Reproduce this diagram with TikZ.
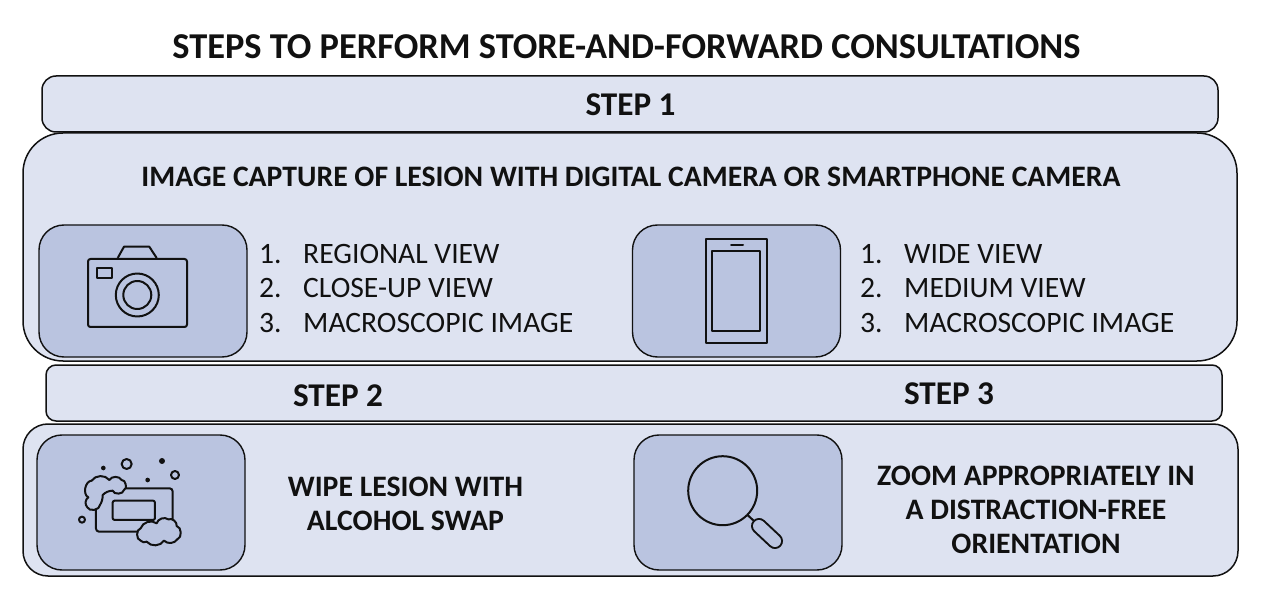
\documentclass[tikz,border=0pt]{standalone}
\usepackage{fontspec}
\setmainfont{Carlito}
\definecolor{panelc}{HTML}{DEE3F1}
\definecolor{iconc}{HTML}{BAC4E0}
\definecolor{inkc}{HTML}{111111}
\tikzset{
 bx/.style={draw=inkc,line width=1.5pt,fill=panelc,inner sep=0pt},
 ib/.style={draw=inkc,line width=1.4pt,fill=iconc,inner sep=0pt,minimum width=208pt,rounded corners=25pt},
 ic/.style={draw=inkc,line width=2pt,line join=round},
 bt/.style={font=\bfseries\fontsize{29.7}{32}\selectfont,text=inkc,inner sep=0pt},
 st/.style={font=\bfseries\fontsize{33.2}{36}\selectfont,text=inkc,inner sep=0pt},
 lt/.style={font=\fontsize{29.6}{32}\selectfont,text=inkc,inner sep=0pt,anchor=base west},
}
\begin{document}
\begin{tikzpicture}[x=1pt,y=-1pt]
\useasboundingbox (0,0) rectangle (1262,596);
\node[bt,font=\bfseries\fontsize{36.4}{40}\selectfont] (title) at (626.5,47) {STEPS TO PERFORM STORE-AND-FORWARD CONSULTATIONS};
\node[bx,minimum width=1176pt,minimum height=56pt,rounded corners=14pt] (bar1) at (630,104) {};
\node[st] (s1) at (630.5,105) {STEP 1};
\node[bx,minimum width=1214pt,minimum height=228pt,rounded corners=40pt] (panel1) at (630,247) {};
\node[bt] (head) at (631,177) {IMAGE CAPTURE OF LESION WITH DIGITAL CAMERA OR SMARTPHONE CAMERA};
\node[ib,minimum height=132pt] (camb) at (143,291) {};
\node[ib,minimum height=132pt] (phoneb) at (736.5,291) {};
% camera
\draw[ic,rounded corners=2.5pt] (88,259) rectangle (187,327);
\draw[ic] (117.7,258) -- (124,246.7) -- (149.3,246.7) -- (156.7,258);
\draw[ic] (97,268) rectangle (112,278);
\draw[ic] (137.3,295) circle[radius=21.5];
\draw[ic] (137.3,295) circle[radius=14];
% phone
\draw[ic] (706,239) rectangle (767,343);
\draw[ic] (712,251) rectangle (760,331);
\draw[ic,line cap=round] (731,245) -- (743,245);
% lists
\foreach \n/\t/\y in {1/REGIONAL VIEW/264,2/CLOSE-UP VIEW/298,3/MACROSCOPIC IMAGE/333}{
 \node[lt] (la\n) at (259,\y) {\n.};
 \node[lt] (lb\n) at (303,\y) {\t};
}
\foreach \n/\t/\y in {1/WIDE VIEW/264,2/MEDIUM VIEW/298,3/MACROSCOPIC IMAGE/333}{
 \node[lt] (ra\n) at (860,\y) {\n.};
 \node[lt] (rb\n) at (904,\y) {\t};
}
\node[bx,minimum width=1176pt,minimum height=56pt,rounded corners=10pt] (bar2) at (634,393) {};
\node[st] (s2) at (338,396) {STEP 2};
\node[st] (s3) at (949,394) {STEP 3};
\node[bx,minimum width=1215pt,minimum height=152pt,rounded corners=25pt] (panel2) at (630.5,500) {};
\node[ib,minimum height=135pt] (soapb) at (141,502.5) {};
\node[ib,minimum height=135pt] (magb) at (738,502.5) {};
% soap
\begin{scope}[shift={(20,420)},x=0.3333pt,y=-0.3333pt]
 \draw[ic,rounded corners=3pt] (228,205) rectangle (458,335);
 \draw[ic,rounded corners=2pt] (278,242) rectangle (405,300);
 \draw[ic,fill=iconc] (205,232) to[bend left=75] (215,182) to[bend left=55] (268,180)
   to[bend left=60] (305,180) to[bend left=85] (312,210) to[bend left=80] (278,212)
   to[bend right=20] (248,225) to[bend left=15] (240,255) to[bend left=80] (202,262)
   to[bend left=50] cycle;
 \draw[ic,fill=iconc] (362,362) to[bend left=80] (362,325) to[bend left=55] (410,310)
   to[bend left=55] (445,298) to[bend left=60] (470,318) to[bend left=75] (472,358)
   to[bend left=50] (432,362) to[bend left=55] (380,365) to[bend left=40] cycle;
 \fill[inkc] (250,144) circle[radius=7];
 \fill[inkc] (426,123) circle[radius=9];
 \fill[inkc] (383,180) circle[radius=7];
 \draw[ic] (320,132) circle[radius=15];
 \draw[ic] (465,165) circle[radius=12];
 \draw[ic] (186,299) circle[radius=9];
\end{scope}
% magnifier
\draw[ic] (722.7,490.7) circle[radius=34.5];
\draw[ic] (747.5,515) -- (754,521);
\draw[inkc,line width=16pt,line cap=round] (759,526) -- (775,541);
\draw[iconc,line width=12pt,line cap=round] (759,526) -- (775,541);
% captions
\node[bt,align=center] (c2) at (405.5,507) {\strut WIPE LESION WITH\\[2pt]\strut ALCOHOL SWAP};
\node[bt,align=center] (c3) at (1036,513.5) {\strut ZOOM APPROPRIATELY IN\\[2pt]\strut A DISTRACTION-FREE\\[2pt]\strut ORIENTATION};
\end{tikzpicture}
\end{document}
